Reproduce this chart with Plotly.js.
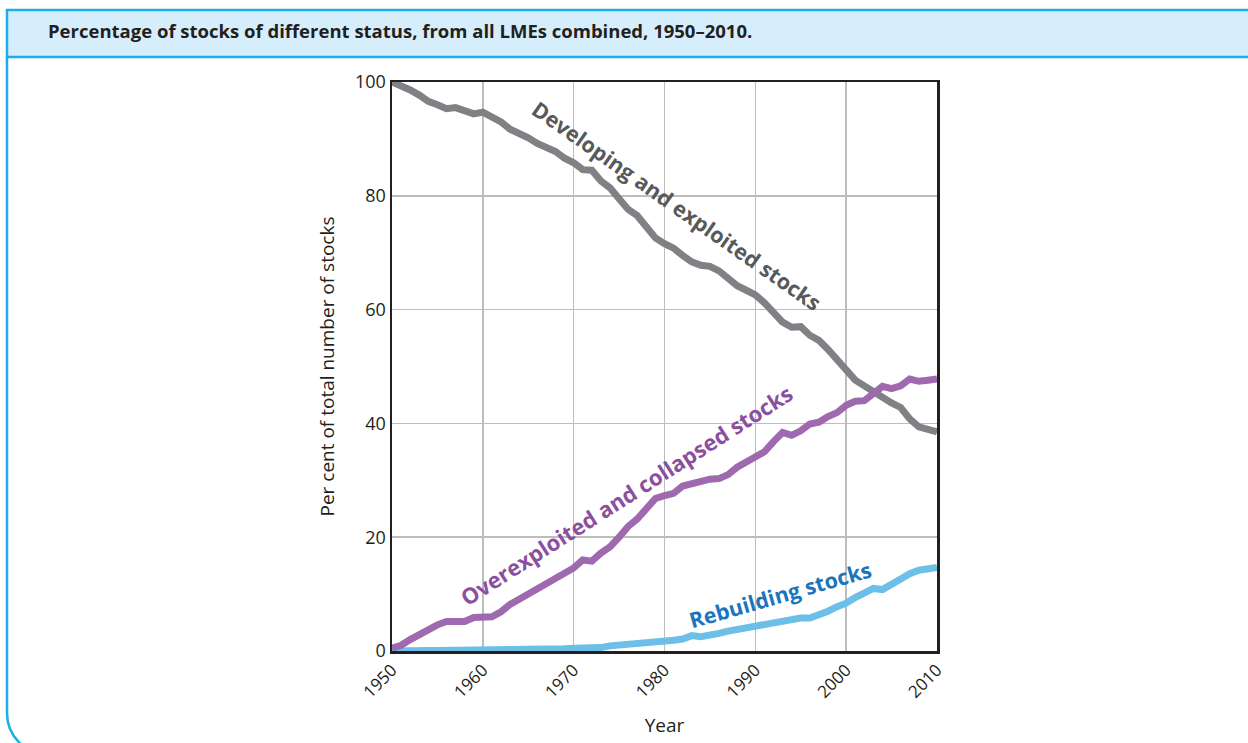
<!DOCTYPE html>
<html>
<head>
<meta charset="utf-8">
<script src="https://cdn.plot.ly/plotly-3.0.1.min.js"></script>
<style>
html,body{margin:0;padding:0;background:#fff;}
#chart{width:1248px;height:743px;}
</style>
</head>
<body>
<div id="chart"></div>
<script>
// ---- Data ----
const years = [];
for (let y = 1950; y <= 2010; y++) years.push(y);

const developingExploited = [
  100.0, 99.4, 98.6, 97.7, 96.6, 96.0, 95.3, 95.5, 95.0, 94.4,
  94.7, 94.0, 93.0, 91.7, 91.0, 90.2, 89.2, 88.4, 87.8, 86.6,
  85.8, 84.6, 84.5, 82.6, 81.4, 79.5, 77.6, 76.5, 74.6, 72.6,
  71.6, 70.8, 69.5, 68.4, 67.8, 67.6, 66.8, 65.6, 64.2, 63.4,
  62.6, 61.2, 59.6, 57.8, 56.9, 57.0, 55.5, 54.6, 53.0, 51.3,
  49.6, 47.6, 46.6, 45.6, 44.3, 43.6, 42.8, 40.8, 39.4, 39.0,
  38.5
];

const overexploitedCollapsed = [
  0.5, 1.0, 2.0, 2.9, 4.0, 4.6, 5.2, 5.1, 5.2, 5.9,
  5.8, 6.0, 6.9, 8.2, 9.1, 10.0, 11.2, 12.1, 12.7, 13.6,
  14.6, 16.0, 15.8, 17.2, 18.3, 20.0, 21.9, 23.2, 25.0, 26.8,
  27.3, 27.7, 29.0, 29.4, 30.0, 30.2, 30.3, 31.0, 32.3, 33.2,
  33.9, 35.0, 36.8, 38.4, 37.9, 38.7, 39.9, 40.2, 41.2, 41.9,
  43.2, 43.9, 44.0, 45.4, 46.5, 46.1, 46.6, 47.8, 47.4, 47.6,
  47.8
];

const rebuilding = [
  0.0, 0.1, 0.1, 0.1, 0.1, 0.1, 0.1, 0.1, 0.2, 0.2,
  0.2, 0.2, 0.2, 0.2, 0.2, 0.2, 0.3, 0.3, 0.3, 0.4,
  0.5, 0.5, 0.5, 0.6, 0.9, 1.0, 1.1, 1.3, 1.4, 1.6,
  1.7, 1.9, 2.1, 2.7, 2.5, 2.7, 3.1, 3.5, 3.8, 4.0,
  4.3, 4.8, 5.0, 5.3, 5.6, 5.8, 5.8, 6.3, 7.0, 7.8,
  8.4, 9.4, 10.2, 11.0, 10.8, 11.8, 12.8, 13.6, 14.2, 14.6,
  14.7
];

const xTickVals = [1950, 1960, 1970, 1980, 1990, 2000, 2010];
const xTickText = ['1950', '1960', '1970', '1980', '1990', '2000', '2010'];
const yTickVals = [0, 20, 40, 60, 80, 100];
const yTickText = ['0', '20', '40', '60', '80', '100'];

const titleText = 'Percentage of stocks of different status, from all LMEs combined, 1950–2010.';
const labelDeveloping = 'Developing and exploited stocks';
const labelOver = 'Overexploited and collapsed stocks';
const labelRebuilding = 'Rebuilding stocks';

// ---- Layout geometry ----
const W = 1248, H = 743;
const M = {l: 392, r: 311, t: 82, b: 92};
const PW = W - M.l - M.r, PH = H - M.t - M.b;
const px = x => (x - M.l) / PW;           // pixel -> paper x
const py = y => (H - M.b - y) / PH;       // pixel -> paper y

const frameColor = '#1aaeeb';
const font = 'Open Sans, Noto Sans, sans-serif';

const bodyPath =
  'M ' + px(7) + ',' + py(57) +
  ' L ' + px(7) + ',' + py(713) +
  ' C ' + px(7) + ',' + py(736) + ' ' + px(25) + ',' + py(754) + ' ' + px(48) + ',' + py(754) +
  ' L ' + px(1270) + ',' + py(754);

const lineW = 7;
const traces = [
  {x: years, y: rebuilding, type: 'scatter', mode: 'lines', cliponaxis: false,
   line: {color: '#6cc0e8', width: lineW}, hoverinfo: 'x+y'},
  {x: years, y: developingExploited, type: 'scatter', mode: 'lines', cliponaxis: false,
   line: {color: '#808184', width: lineW}, hoverinfo: 'x+y'},
  {x: years, y: overexploitedCollapsed, type: 'scatter', mode: 'lines', cliponaxis: false,
   line: {color: '#9f69af', width: lineW}, hoverinfo: 'x+y'}
];

const layout = {
  width: W, height: H,
  margin: M,
  paper_bgcolor: 'rgba(0,0,0,0)',
  plot_bgcolor: '#ffffff',
  showlegend: false,
  font: {family: font, color: '#231f20'},
  title: {
    text: titleText,
    xref: 'container', yref: 'container',
    x: 48 / W, xanchor: 'left',
    y: 1 - 32 / H, yanchor: 'middle',
    font: {family: font, size: 18.5, weight: 700, color: '#231f20'}
  },
  xaxis: {
    range: [1950, 2010],
    tickvals: xTickVals, ticktext: xTickText,
    tickangle: -45,
    tickfont: {family: font, size: 17, color: '#231f20'},
    ticks: '', showgrid: true, gridcolor: '#bdbdbd', gridwidth: 1.6,
    zeroline: false,
    showline: true, linecolor: '#231f20', linewidth: 2.5, mirror: true,
    layer: 'below traces',
    title: {text: 'Year', font: {family: font, size: 19, color: '#231f20'}, standoff: 18}
  },
  yaxis: {
    range: [0, 100],
    tickvals: yTickVals, ticktext: yTickText,
    tickfont: {family: font, size: 18, color: '#231f20'},
    ticks: '', showgrid: true, gridcolor: '#bdbdbd', gridwidth: 1.6,
    zeroline: false,
    showline: true, linecolor: '#231f20', linewidth: 2.5, mirror: true,
    layer: 'below traces',
    title: {text: 'Per cent of total number of stocks', font: {family: font, size: 19, color: '#231f20'}, standoff: 16}
  },
  shapes: [
    {type: 'rect', xref: 'paper', yref: 'paper', layer: 'below',
     x0: px(7), x1: px(1270), y0: py(10), y1: py(57),
     fillcolor: '#d6eefb', line: {color: frameColor, width: 2.5}},
    {type: 'path', xref: 'paper', yref: 'paper', layer: 'below',
     path: bodyPath, line: {color: frameColor, width: 2.5}}
  ],
  annotations: [
    {text: labelDeveloping, x: px(677), y: py(205), xref: 'paper', yref: 'paper',
     showarrow: false, textangle: 35, xanchor: 'center', yanchor: 'middle',
     font: {family: font, size: 21.5, weight: 700, color: '#58595b'}},
    {text: labelOver, x: px(626), y: py(495), xref: 'paper', yref: 'paper',
     showarrow: false, textangle: -32.5, xanchor: 'center', yanchor: 'middle',
     font: {family: font, size: 22, weight: 700, color: '#8c4f9f'}},
    {text: labelRebuilding, x: px(780), y: py(594), xref: 'paper', yref: 'paper',
     showarrow: false, textangle: -16, xanchor: 'center', yanchor: 'middle',
     font: {family: font, size: 21.5, weight: 700, color: '#1a75bc'}}
  ]
};

Plotly.newPlot('chart', traces, layout, {displayModeBar: false, staticPlot: true});
</script>
</body>
</html>
